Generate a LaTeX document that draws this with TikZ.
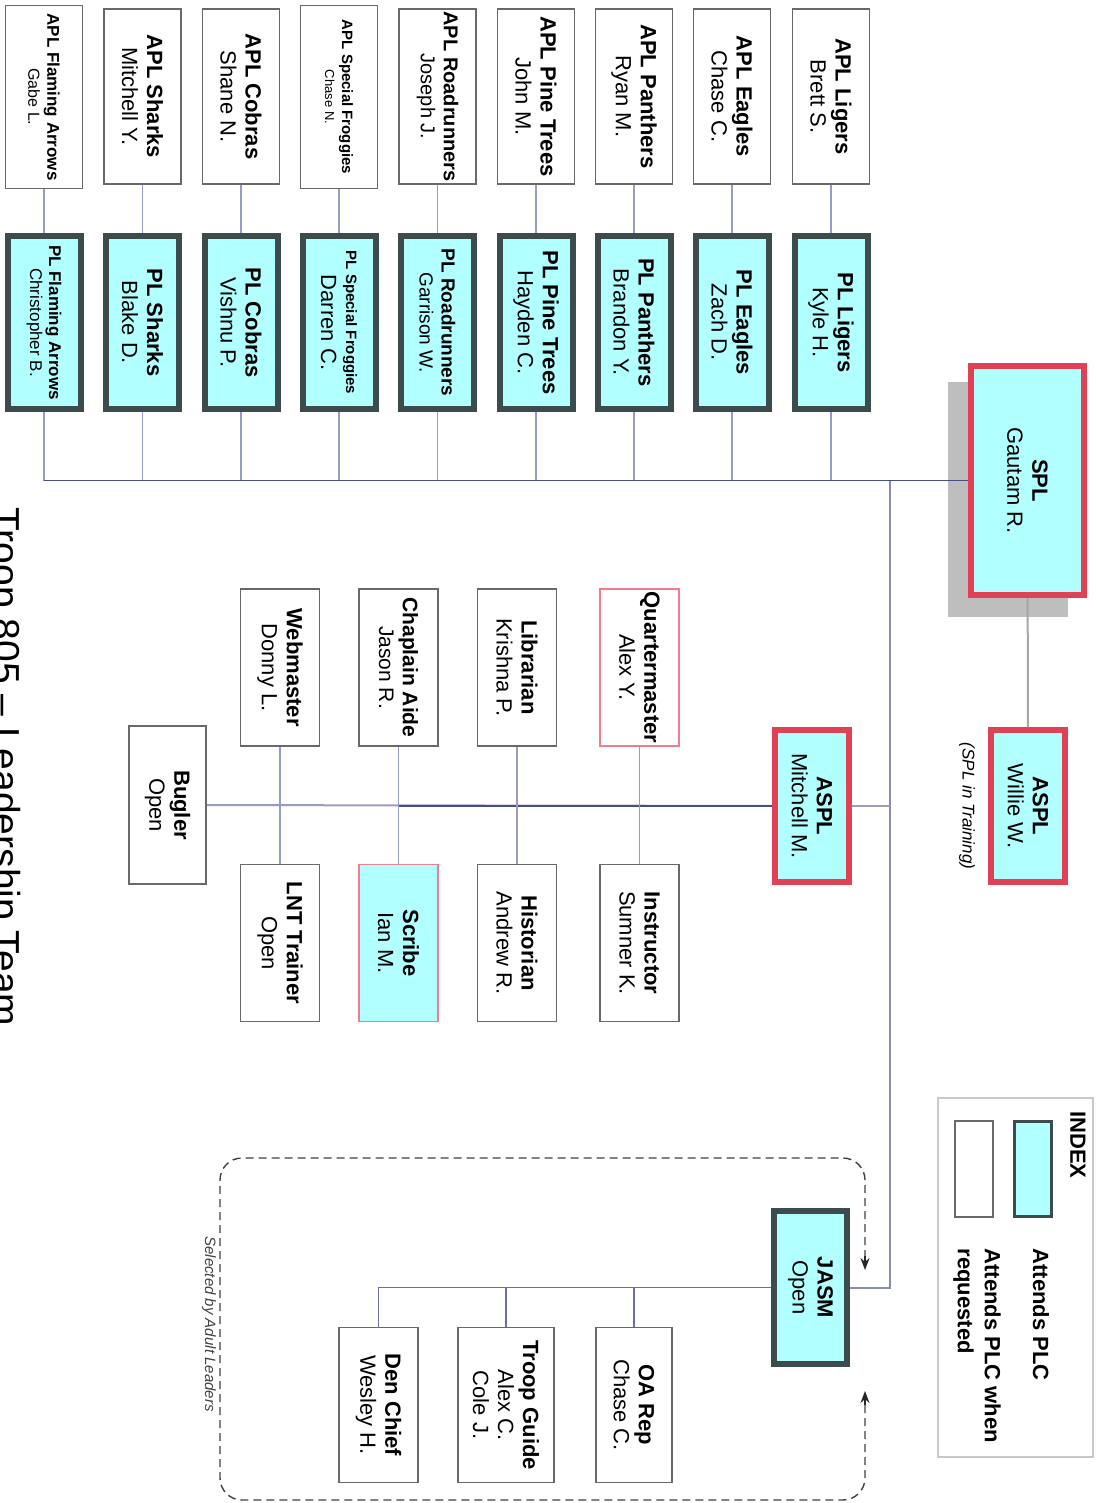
\documentclass[tikz,border=0pt]{standalone}
\usepackage{fontspec}
\setmainfont{Liberation Sans}
\usetikzlibrary{arrows.meta}

\definecolor{plccyan}{RGB}{178,255,255}
\definecolor{pldark}{RGB}{60,76,76}
\definecolor{aplgray}{RGB}{105,105,105}
\definecolor{spred}{RGB}{225,65,85}
\definecolor{pinkline}{RGB}{240,125,140}
\definecolor{linkblue}{RGB}{150,156,196}
\definecolor{busblue}{RGB}{70,78,130}
\definecolor{shadowgray}{RGB}{190,190,190}
\definecolor{indexgray}{RGB}{200,200,200}

\begin{document}
\begin{tikzpicture}[x=1pt, y=-1pt, >={Stealth[length=12pt, width=9pt]},
    box/.style={draw=aplgray, line width=1.5pt, fill=white, rotate=-90,
      minimum width=175, minimum height=77, inner sep=1pt, align=center,
      font=\fontsize{22}{25}\selectfont},
    plbox/.style={box, draw=pldark, line width=6pt, fill=plccyan,
      minimum width=173, minimum height=73},
    redbox/.style={plbox, draw=spred},
    pinkbox/.style={box, draw=pinkline},
    link/.style={draw=linkblue, line width=1.5pt},
    bus/.style={draw=busblue, line width=1.5pt}]
    \useasboundingbox (0,0) rectangle (1095,1503);

    % Titolo
    \node[rotate=-90, anchor=base west, font=\fontsize{39}{45}\selectfont] (title) at (-8,504) {Troop 805 -- Leadership Team};

    % APL
    \node[box, minimum width=183, font=\fontsize{17}{19}\selectfont] (apl1) at (44,97) {\textbf{APL Flaming Arrows}\\{\fontsize{16}{18}\selectfont Gabe L.}};
    \node[box] (apl2) at (142.5,96.5) {\textbf{APL Sharks}\\Mitchell Y.};
    \node[box] (apl3) at (241,96.5) {\textbf{APL Cobras}\\Shane N.};
    \node[box, minimum width=183, font=\fontsize{15}{17}\selectfont] (apl4) at (339,97) {\textbf{APL Special Froggies}\\{\fontsize{13}{15}\selectfont Chase N.}};
    \node[box, font=\fontsize{20}{23}\selectfont] (apl5) at (437.5,96.5) {\textbf{APL Roadrunners}\\Joseph J.};
    \node[box] (apl6) at (536,96.5) {\textbf{APL Pine Trees}\\John M.};
    \node[box] (apl7) at (634,96.5) {\textbf{APL Panthers}\\Ryan M.};
    \node[box] (apl8) at (732,96.5) {\textbf{APL Eagles}\\Chase C.};
    \node[box] (apl9) at (831,96.5) {\textbf{APL Ligers}\\Brett S.};

    % PL
    \node[plbox, font=\fontsize{17}{19}\selectfont] (pl1) at (44,322.5) {\textbf{PL Flaming Arrows}\\Christopher B.};
    \node[plbox] (pl2) at (142.5,322.5) {\textbf{PL Sharks}\\Blake D.};
    \node[plbox] (pl3) at (241,322.5) {\textbf{PL Cobras}\\Vishnu P.};
    \node[plbox] (pl4) at (339,322.5) {{\fontsize{15}{17}\selectfont\textbf{PL Special Froggies}}\\Darren C.};
    \node[plbox, font=\fontsize{19}{22}\selectfont] (pl5) at (437.5,322.5) {\textbf{PL Roadrunners}\\Garrison W.};
    \node[plbox] (pl6) at (536,322.5) {\textbf{PL Pine Trees}\\Hayden C.};
    \node[plbox] (pl7) at (634,322.5) {\textbf{PL Panthers}\\Brandon Y.};
    \node[plbox] (pl8) at (732,322.5) {\textbf{PL Eagles}\\Zach D.};
    \node[plbox] (pl9) at (831,322.5) {\textbf{PL Ligers}\\Kyle H.};

    % SPL e ASPL
    \fill[shadowgray] (948,382) rectangle (1068,617);
    \node[redbox, minimum width=229, minimum height=113] (spl) at (1027.5,480.5) {\textbf{SPL}\\Gautam R.};
    \node[redbox, minimum width=152, minimum height=74] (willie) at (1028,806) {\textbf{ASPL}\\Willie W.};
    \node[rotate=-90, font=\itshape\fontsize{17}{20}\selectfont] (training) at (967,806) {(SPL in Training)};
    \node[redbox, minimum width=152, minimum height=74] (mitchell) at (812,806) {\textbf{ASPL}\\Mitchell M.};

    % Staff
    \node[pinkbox, minimum width=157, minimum height=79] (quarter) at (639.5,667.5) {\textbf{Quartermaster}\\Alex Y.};
    \node[box, minimum width=157, minimum height=79] (librarian) at (517,667.5) {\textbf{Librarian}\\Krishna P.};
    \node[box, minimum width=157, minimum height=79, font=\fontsize{21}{24}\selectfont] (chaplain) at (398.5,667.5) {\textbf{Chaplain Aide}\\Jason R.};
    \node[box, minimum width=157, minimum height=79] (webmaster) at (280,667.5) {\textbf{Webmaster}\\Donny L.};
    \node[box, minimum width=157, minimum height=79] (instructor) at (639.5,943) {\textbf{Instructor}\\Sumner K.};
    \node[box, minimum width=157, minimum height=79] (historian) at (517,943) {\textbf{Historian}\\Andrew R.};
    \node[pinkbox, fill=plccyan, minimum width=157, minimum height=79] (scribe) at (398.5,943) {\textbf{Scribe}\\Ian M.};
    \node[box, minimum width=157, minimum height=79] (lnt) at (280,943) {\textbf{LNT Trainer}\\Open};
    \node[box, minimum width=158, minimum height=77] (bugler) at (167.5,805) {\textbf{Bugler}\\Open};

    % JASM
    \node[plbox, minimum width=153, minimum height=73] (jasm) at (810.5,1287.5) {\textbf{JASM}\\Open};
    \node[box, minimum width=155, minimum height=76] (oarep) at (634,1405) {\textbf{OA Rep}\\Chase C.};
    \node[box, minimum width=155, minimum height=96] (guide) at (506,1405) {\textbf{Troop Guide}\\Alex C.\\Cole J.};
    \node[box, minimum width=155, minimum height=79] (denchief) at (378.5,1405) {\textbf{Den Chief}\\Wesley H.};

    % Selezione
    \draw[black!75, line width=1.4pt, dash pattern=on 8pt off 5pt, rounded corners=22]
        (865,1258) -- (865,1158) -- (220,1158) -- (220,1500) -- (865,1500) -- (865,1403);
    \draw[->, black!85, line width=1.4pt] (865,1256) -- (865,1270);
    \draw[->, black!85, line width=1.4pt] (865,1405) -- (865,1391);
    \node[rotate=-90, text=black!75, font=\itshape\fontsize{15}{17}\selectfont] (selected) at (209,1324) {Selected by Adult Leaders};

    % Indice
    \draw[indexgray, line width=1.5pt] (938,1098) rectangle (1093,1457);
    \node[rotate=-90, font=\bfseries\fontsize{22}{25}\selectfont] (index) at (1078,1145) {INDEX};
    \node[draw=pldark, line width=3pt, fill=plccyan, minimum width=37, minimum height=95] (keyplc) at (1033,1169) {};
    \node[draw=aplgray, line width=2pt, fill=white, minimum width=38, minimum height=96] (keyask) at (973.5,1169) {};
    \node[rotate=-90, anchor=west, font=\bfseries\fontsize{22}{25}\selectfont] (attends) at (1041,1245) {Attends PLC};
    \node[rotate=-90, anchor=west, align=left, font=\bfseries\fontsize{22}{27}\selectfont] (asked) at (977,1245) {Attends PLC when\\requested};

    % Collegamenti
    \foreach \i in {1,...,9} {
        \draw[link] (apl\i) -- (pl\i);
        \draw[link] (pl\i) -- (pl\i |- spl);
    }
    \draw[bus] (pl1 |- spl) -- (spl);
    \coordinate (trunk) at (890,480.5);
    \draw[link, draw=linkblue!90!black, line width=2pt] (trunk) |- (jasm);
    \draw[link, line width=2pt] (trunk |- mitchell) -- (mitchell);
    \draw[link, draw=gray!70, line width=2pt] (spl) -- (willie);
    \draw[link, line width=2pt] (bugler) -- (mitchell);
    \draw[bus, line width=2.5pt] (chaplain |- mitchell) -- (mitchell);
    \draw[link] (quarter) -- (instructor);
    \draw[link] (librarian) -- (historian);
    \draw[link] (chaplain) -- (scribe);
    \draw[link] (webmaster) -- (lnt);
    \draw[link, draw=busblue!80] (jasm) -| (oarep);
    \draw[link, draw=busblue!80] (jasm) -| (guide);
    \draw[link, draw=busblue!80] (jasm) -| (denchief);
\end{tikzpicture}
\end{document}
